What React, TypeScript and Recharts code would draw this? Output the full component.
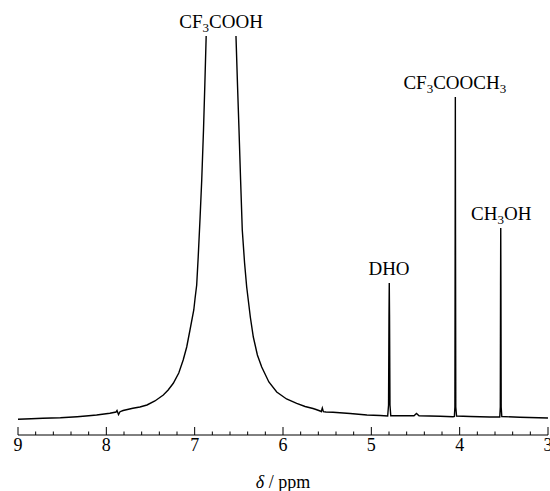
import { LineChart, Line, XAxis, YAxis, ReferenceDot, Label } from "recharts";

// chemical shift (ppm) and signal height
const shifts = [
  9.0, 8.85, 8.72, 8.52, 8.33, 8.2, 8.11, 7.96, 7.89, 7.879, 7.862, 7.845, 7.81,
  7.7, 7.62, 7.54, 7.45, 7.355, 7.3, 7.242, 7.18, 7.13, 7.09, 7.053, 7.01, 6.995,
  6.977, 6.96, 6.94, 6.92, 6.9, 6.885, 6.87, 6.84, 6.8, 6.76, 6.7, 6.64, 6.6,
  6.56, 6.532, 6.515, 6.498, 6.48, 6.461, 6.435, 6.411, 6.37, 6.336, 6.29, 6.241,
  6.16, 6.071, 5.96, 5.845, 5.75, 5.66, 5.626, 5.58, 5.567, 5.555, 5.543, 5.513,
  5.434, 5.24, 5.05, 4.9, 4.815, 4.805, 4.8, 4.797, 4.794, 4.789, 4.78, 4.73,
  4.517, 4.489, 4.46, 4.22, 4.075, 4.06, 4.054, 4.051, 4.049, 4.047, 4.044,
  4.035, 3.88, 3.66, 3.546, 3.54, 3.537, 3.535, 3.533, 3.53, 3.523, 3.32, 3.0,
];
const intensity = [
  15.7, 16.2, 16.7, 17.3, 18.3, 19.2, 20, 21.7, 23, 24.5, 20.5, 23.3, 24.5,
  26.7, 28, 30, 34, 40, 45, 51.7, 62, 75, 88, 105, 125, 137,
  150, 178, 215, 255, 305, 350, 398, 700, 1500, 3500, 7300, 3500, 1500,
  700, 398, 350, 305, 255, 205, 172, 148, 118, 98, 80, 68,
  53, 43, 36, 31.7, 28.5, 26.5, 25.5, 24, 23.3, 27, 23.3, 23,
  22.7, 21.5, 20, 19.5, 19, 30, 120, 152, 120, 30, 19.3, 19.3,
  19.3, 21.5, 19.2, 18.8, 18.3, 18.5, 28, 200, 338, 200, 28,
  19, 18.5, 18, 18, 28, 150, 207, 150, 28, 18.5, 17.7, 17,
];

const peakNames = [["CF", "3", "COOH"], ["DHO"], ["CF", "3", "COOCH", "3"], ["CH", "3", "OH"]];
const peakShifts = [6.7, 4.8, 4.055, 3.53];
const peakHeights = [7300, 152, 338, 207];

const majorTicks = [9, 8, 7, 6, 5, 4, 3];
const minorTicks = [
  8.8, 8.6, 8.4, 8.2, 7.8, 7.6, 7.4, 7.2, 6.8, 6.6, 6.4, 6.2,
  5.8, 5.6, 5.4, 5.2, 4.8, 4.6, 4.4, 4.2, 3.8, 3.6, 3.4, 3.2,
];

const data = shifts.map((ppm, i) => ({ ppm, intensity: intensity[i] }));
const Y_MAX = 399;
const FONT = "'Liberation Serif', 'Times New Roman', serif";

function Tick(props: any) {
  const { x, y, payload } = props;
  const major = majorTicks.includes(payload.value);
  return (
    <g>
      <line x1={x} x2={x} y1={y} y2={y - (major ? 8 : 3.5)} stroke="#000" strokeWidth={1} />
      {major && (
        <text x={x} y={y + 16} textAnchor="middle" fontSize={18} fontFamily={FONT} fill="#000">
          {payload.value}
        </text>
      )}
    </g>
  );
}

function PeakLabel(props: any) {
  const { cx, cy, parts } = props;
  return (
    <text x={cx} y={cy} textAnchor="middle" fontSize={19} fontFamily={FONT} fill="#000">
      {parts.map((p: string, i: number) =>
        i % 2 === 1 ? (
          <tspan key={i} fontSize={13} dy={4}>{p}</tspan>
        ) : (
          <tspan key={i} dy={i === 0 ? 0 : -4}>{p}</tspan>
        )
      )}
    </text>
  );
}

export default function App() {
  return (
    <div style={{ position: "absolute", left: 0, top: 0, background: "#fff" }}>
      <LineChart width={550} height={491} data={data} margin={{ top: 36, right: 2, bottom: 0, left: 18 }}>
        <XAxis
          dataKey="ppm"
          type="number"
          domain={[3, 9]}
          reversed
          allowDataOverflow
          ticks={[...majorTicks, ...minorTicks]}
          interval={0}
          tick={<Tick />}
          tickLine={false}
          tickSize={0}
          tickMargin={0}
          height={56}
          axisLine={{ stroke: "#000", strokeWidth: 1 }}
        >
          <Label
            content={(p: any) => {
              const vb = p.viewBox;
              return (
                <text x={vb.x + vb.width / 2} y={vb.y + 53} textAnchor="middle" fontSize={18} fontFamily={FONT} fill="#000">
                  <tspan fontStyle="italic">δ</tspan>
                  <tspan> / ppm</tspan>
                </text>
              );
            }}
          />
        </XAxis>
        <YAxis hide type="number" domain={[0, Y_MAX]} allowDataOverflow />
        <Line
          type="linear"
          dataKey="intensity"
          stroke="#000"
          strokeWidth={1.4}
          dot={false}
          isAnimationActive={false}
        />
        {peakNames.map((parts, i) => (
          <ReferenceDot
            key={i}
            x={peakShifts[i]}
            y={Math.min(peakHeights[i], Y_MAX) + 8}
            ifOverflow="visible"
            shape={(p: any) => <PeakLabel cx={p.cx} cy={p.cy} parts={parts} />}
          />
        ))}
      </LineChart>
    </div>
  );
}
